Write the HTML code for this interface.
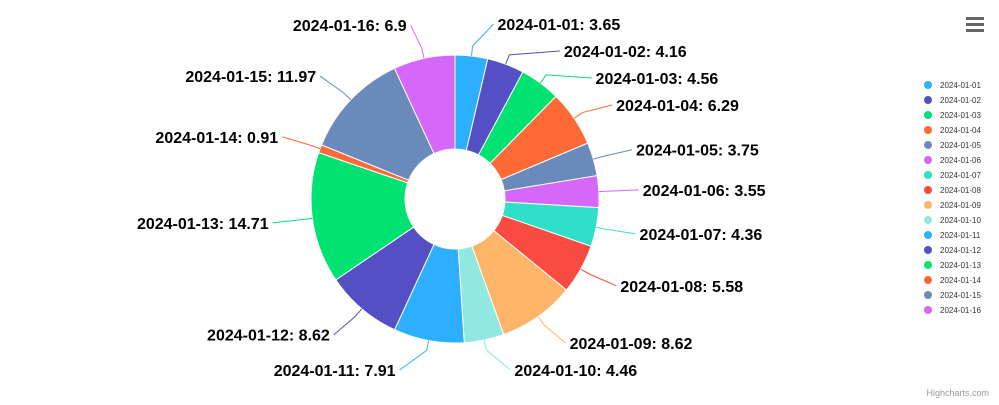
<!DOCTYPE html>
<html>
<head>
<meta charset="utf-8">
<style>
html,body{margin:0;padding:0;background:#fff;}
body{width:999px;height:400px;overflow:hidden;font-family:"Liberation Sans",Arial,sans-serif;}
svg text{font-family:"Liberation Sans",Arial,sans-serif;}
</style>
</head>
<body>
<svg id="chart" width="999" height="400" viewBox="0 0 999 400" xmlns="http://www.w3.org/2000/svg">
  <rect x="0" y="0" width="999" height="400" fill="#fff"/>
  <g id="slices"></g>
  <g id="labels"></g>
  <g id="legend"></g>
  <g>
    <rect x="966" y="17" width="18" height="3" fill="#666"/>
    <rect x="966" y="23" width="18" height="3" fill="#666"/>
    <rect x="966" y="29" width="18" height="3" fill="#666"/>
  </g>
  <text x="989" y="396" text-anchor="end" font-size="9" fill="#999">Highcharts.com</text>
</svg>
<script>
const categories = ["2024-01-01","2024-01-02","2024-01-03","2024-01-04","2024-01-05","2024-01-06","2024-01-07","2024-01-08","2024-01-09","2024-01-10","2024-01-11","2024-01-12","2024-01-13","2024-01-14","2024-01-15","2024-01-16"];
const values = [3.65,4.16,4.56,6.29,3.75,3.55,4.36,5.58,8.62,4.46,7.91,8.62,14.71,0.91,11.97,6.9];
const palette = ["#2caffe","#544fc5","#00e272","#fe6a35","#6b8abc","#d568fb","#2ee0ca","#fa4b42","#feb56a","#91e8e1"];

const NS = "http://www.w3.org/2000/svg";
const cx = 455, cy = 199, R = 144, r = 50, RL = 178, MINGAP = 27, YMIN = 24, YMAX = 370;
const total = values.reduce((a,b)=>a+b,0);
const slicesG = document.getElementById('slices');
const labelsG = document.getElementById('labels');
const legendG = document.getElementById('legend');
function pt(rad, ang){ return [cx + rad*Math.sin(ang), cy - rad*Math.cos(ang)]; }
function mk(tag, attrs){ const e=document.createElementNS(NS,tag); for(const k in attrs) e.setAttribute(k,attrs[k]); return e; }

let cum = 0;
const items = [];
values.forEach((v,i)=>{
  const a0 = cum/total*2*Math.PI; cum += v;
  const a1 = cum/total*2*Math.PI;
  const large = (a1-a0) > Math.PI ? 1 : 0;
  const p0=pt(R,a0), p1=pt(R,a1), q1=pt(r,a1), q0=pt(r,a0);
  const color = palette[i % palette.length];
  const path = mk('path',{d:`M${p0[0]},${p0[1]} A${R},${R} 0 ${large} 1 ${p1[0]},${p1[1]} L${q1[0]},${q1[1]} A${r},${r} 0 ${large} 0 ${q0[0]},${q0[1]} Z`, fill:color, stroke:'#fff','stroke-width':1});
  
  
  slicesG.appendChild(path);
  const am = (a0+a1)/2;
  items.push({i, am, color, right: Math.sin(am) >= 0, y: Math.min(YMAX, Math.max(YMIN, cy - RL*Math.cos(am)))});

  const g = mk('g',{});
  
  
  const ly2 = 85 + i*15;
  g.appendChild(mk('circle',{cx:928, cy:ly2, r:4, fill:color}));
  const lt = mk('text',{x:940, y:ly2+3, 'font-size':8, fill:'#333'});
  lt.textContent = categories[i];
  g.appendChild(lt);
  legendG.appendChild(g);
});

// distribute labels per side
[true,false].forEach(side=>{
  const s = items.filter(o=>o.right===side).sort((a,b)=>a.y-b.y);
  for(let k=1;k<s.length;k++) if (s[k].y < s[k-1].y + MINGAP) s[k].y = s[k-1].y + MINGAP;
  if (s.length && s[s.length-1].y > YMAX) {
    s[s.length-1].y = YMAX;
    for(let k=s.length-2;k>=0;k--) if (s[k].y > s[k+1].y - MINGAP) s[k].y = s[k+1].y - MINGAP;
  }
});

items.forEach(o=>{
  const dy = o.y - cy;
  const dx = Math.sqrt(Math.max(0, RL*RL - dy*dy));
  const sign = o.right ? 1 : -1;
  const tx = cx + sign*(dx + 10);
  const e = pt(R, o.am);
  const m = pt(R+10, o.am);
  const line = mk('path',{d:`M${e[0]},${e[1]} L${m[0]},${m[1]} L${tx - sign*4},${o.y}`, fill:'none', stroke:o.color, 'stroke-width':1});
  
  
  labelsG.appendChild(line);
  const t = mk('text',{x: tx, y: o.y+6, 'text-anchor': o.right?'start':'end', 'font-size':16, 'font-weight':'bold', fill:'#000'});
  t.textContent = categories[o.i] + ': ' + values[o.i];
  
  
  labelsG.appendChild(t);
});
</script>
</body>
</html>
